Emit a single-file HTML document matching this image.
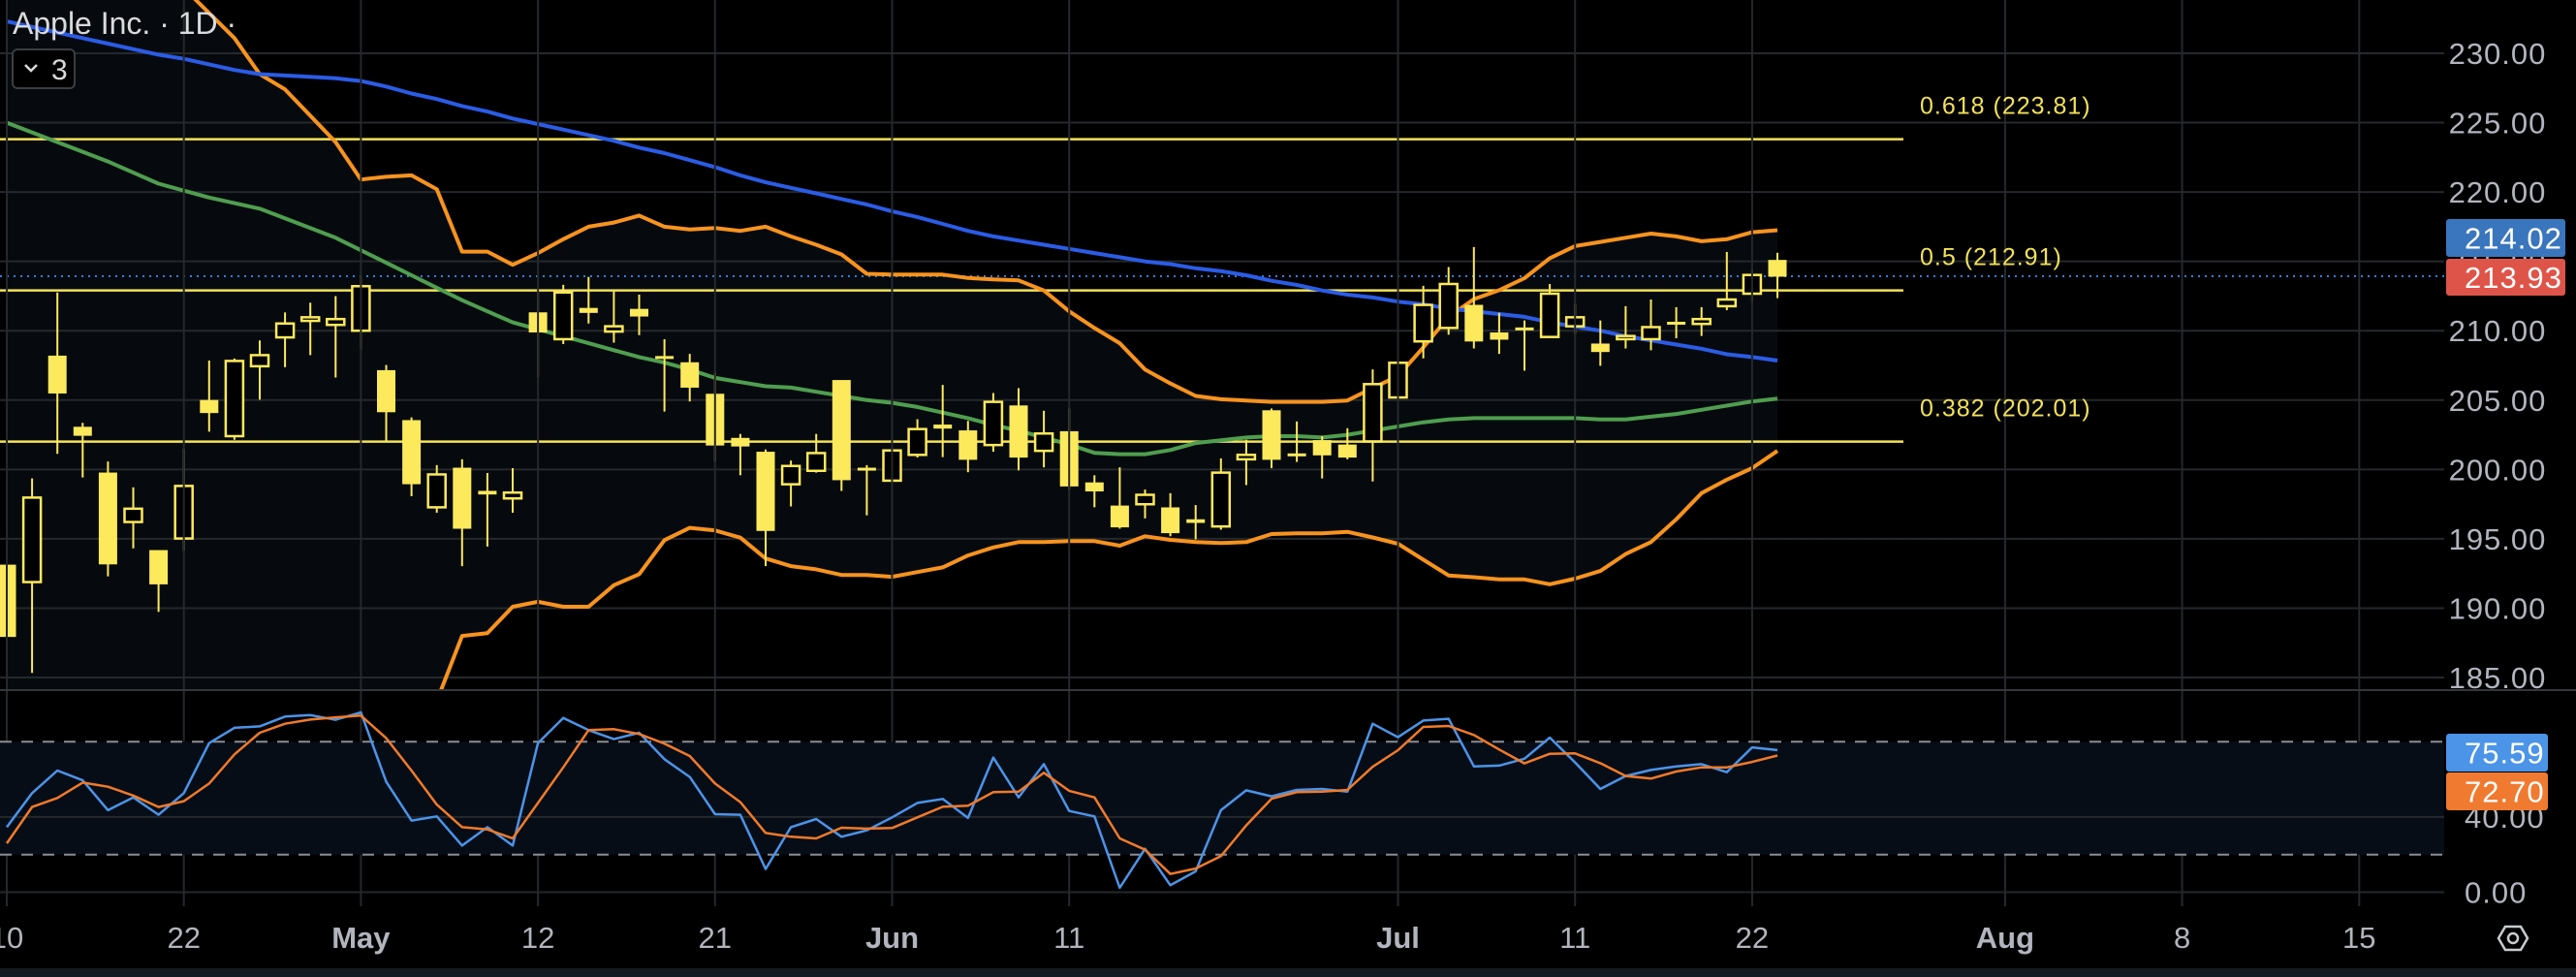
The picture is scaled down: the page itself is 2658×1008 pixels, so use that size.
<!DOCTYPE html>
<html><head><meta charset="utf-8"><style>
html,body{margin:0;padding:0;background:#000;overflow:hidden}
svg{display:block;font-family:"Liberation Sans",sans-serif}
</style></head><body>
<svg id="c" width="2658" height="1008" viewBox="0 0 2658 1008"></svg>
<script>
const opens=[193.1,191.88,208.17,203.04,199.74,196.21,194.15,195.02,204.97,202.4,207.44,209.52,210.71,210.42,210.0,207.12,203.52,197.27,200.09,198.42,197.91,211.29,209.39,211.61,209.94,211.54,208.14,207.69,205.42,202.24,201.24,198.93,199.9,206.41,200.09,199.19,201.05,203.2,202.78,201.76,204.58,201.34,202.72,199.03,197.36,197.49,197.23,196.37,195.89,200.73,204.23,201.12,202.08,201.76,202.02,205.19,209.23,210.2,211.83,209.84,210.2,209.55,210.32,209.04,209.39,209.39,210.61,210.49,211.77,212.67,215.07];
const closes=[187.96,197.97,205.51,202.46,193.19,197.17,191.75,198.81,204.1,207.82,208.24,210.52,210.97,210.84,213.21,204.16,198.97,199.64,195.76,198.23,198.33,209.91,212.76,211.32,210.32,211.06,208.02,205.93,201.76,201.69,195.6,200.25,201.18,199.26,200.03,201.37,202.91,202.98,200.73,204.87,200.89,202.59,198.81,198.45,195.86,198.17,195.44,196.18,199.77,201.05,200.73,201.05,201.05,200.89,206.15,207.69,211.86,213.37,209.26,209.39,210.2,212.67,210.97,208.5,209.62,210.26,210.61,210.84,212.25,214.02,213.93];
const highs=[194.5,199.35,212.76,203.36,200.57,198.71,194.15,201.5,207.85,208.0,209.3,211.32,212.02,212.5,213.88,207.53,203.75,200.31,200.73,199.74,200.09,213.05,213.31,213.88,212.83,212.6,209.39,208.33,206.95,202.56,201.44,200.64,202.56,206.41,200.31,201.82,203.62,206.09,203.5,205.51,205.86,204.23,204.39,199.58,200.15,198.55,198.29,197.43,200.79,202.14,204.39,203.46,202.4,202.97,207.21,210.1,213.24,214.59,216.03,211.29,210.74,213.37,211.96,210.74,211.77,212.25,211.7,211.7,215.68,214.37,215.62];
const lows=[184.7,185.33,201.12,199.42,192.29,194.31,189.73,194.15,202.72,202.14,205.03,207.37,208.24,206.63,208.66,201.98,198.07,196.88,193.03,194.44,196.88,206.63,209.04,210.52,209.14,209.68,204.17,204.9,200.57,199.58,193.03,197.33,199.77,198.45,196.69,199.19,200.86,200.89,199.8,201.28,199.93,200.15,198.55,197.27,195.73,196.47,195.18,194.95,195.66,198.87,200.09,200.54,199.35,200.73,199.13,205.19,208.01,209.71,208.72,208.33,207.12,209.55,209.78,207.47,208.72,208.59,209.46,209.62,211.48,212.12,212.35];
const maSlow=[232.3,231.9,231.5,231.1,230.7,230.3,229.9,229.6,229.2,228.8,228.5,228.4,228.3,228.2,228.0,227.6,227.1,226.7,226.2,225.8,225.3,224.9,224.5,224.1,223.7,223.2,222.8,222.3,221.8,221.2,220.7,220.3,219.9,219.5,219.1,218.6,218.2,217.7,217.2,216.8,216.5,216.2,215.9,215.6,215.3,215.0,214.8,214.5,214.3,214.0,213.6,213.3,212.9,212.6,212.4,212.1,211.9,211.6,211.4,211.2,211.0,210.6,210.3,210.0,209.6,209.3,209.0,208.7,208.3,208.1,207.85];
const maFast=[225.0,224.3,223.6,222.9,222.2,221.4,220.6,220.1,219.6,219.2,218.8,218.1,217.4,216.7,215.8,214.9,214.0,213.1,212.2,211.4,210.6,210.1,209.6,209.1,208.6,208.1,207.7,207.2,206.6,206.3,206.0,205.9,205.6,205.3,205.0,204.8,204.5,204.1,203.7,203.2,202.8,202.3,201.8,201.2,201.1,201.1,201.4,201.9,202.1,202.3,202.4,202.4,202.3,202.5,202.8,203.1,203.4,203.6,203.7,203.7,203.7,203.7,203.7,203.6,203.6,203.8,204.0,204.3,204.6,204.9,205.1];
const bandUpper=[246,244.5,243,241.5,240,238.5,237,234.7,232.9,231.1,228.5,227.4,225.5,223.6,220.9,221.1,221.2,220.2,215.7,215.7,214.75,215.6,216.6,217.5,217.8,218.3,217.5,217.3,217.4,217.2,217.5,216.8,216.2,215.5,214.1,214.05,214.05,214.05,213.8,213.7,213.63,212.9,211.4,210.2,209.1,207.2,206.2,205.3,205.06,204.97,204.87,204.87,204.87,204.97,205.87,206.73,208.8,211.0,212.28,212.92,213.79,215.23,216.1,216.4,216.7,217.0,216.8,216.45,216.6,217.1,217.25];
const bandLower=[170,170.5,171,171.5,172,172.5,173,173.5,174,175,176,177,178,179,180,181,182,183.3,188.0,188.2,190.1,190.46,190.1,190.1,191.65,192.45,194.9,195.79,195.6,195.08,193.58,193.03,192.8,192.39,192.39,192.26,192.6,192.94,193.8,194.38,194.76,194.76,194.83,194.83,194.5,195.18,194.92,194.76,194.7,194.76,195.34,195.4,195.4,195.5,195.1,194.64,193.5,192.36,192.23,192.07,192.07,191.72,192.13,192.68,193.9,194.76,196.4,198.29,199.26,200.09,201.34];
const rsiK=[34.6,52.7,64.7,59.5,43.6,50.4,41.2,52.7,79.3,87.4,88.2,93.4,94.2,91.7,95.6,58.7,38.1,40.3,24.8,34.6,24.8,79.3,92.7,86.2,81.4,84.8,70.7,61.3,41.5,41.2,12.3,34.6,38.9,29.5,32.9,39.8,47.5,49.6,39.5,71.6,50.4,68.1,43.2,40.3,2.3,23.1,3.7,11.1,43.6,54.2,51.0,54.4,54.9,53.5,89.6,82.4,91.3,92.2,66.9,67.3,71.0,82.2,69.0,54.9,61.8,65.0,66.9,68.1,63.8,77.0,75.59];
const rsiD=[26.0,45.3,50.1,58.3,56.1,51.4,45.3,48.4,57.8,73.3,84.8,89.6,91.8,93.0,93.9,81.9,64.7,46.6,34.6,33.4,28.6,47.5,66.4,86.2,86.7,84.1,79.0,72.4,57.8,47.9,31.5,29.5,28.6,34.3,33.8,34.1,39.8,45.4,46.0,53.2,53.5,63.5,53.9,50.4,28.6,22.6,9.7,12.6,19.2,35.5,49.7,53.2,53.5,54.4,66.7,75.5,87.9,88.4,83.6,75.9,68.5,73.6,73.8,68.6,61.8,60.4,64.2,66.4,66.4,69.3,72.7];
const priceTicks=[230,225,220,215,210,205,200,195,190,185];
const fibLevels=[223.81,212.91,202.01];
const fibLabels=["0.618 (223.81)","0.5 (212.91)","0.382 (202.01)"];
const timeTickIdx=[0,7,14,21,28,35,42,55,62,69,79,86,93];
const timeTickLabels=["10","22","May","12","21","Jun","11","Jul","11","22","Aug","8","15"];
const timeTickBold=[0,0,1,0,0,1,0,1,0,0,1,0,0];
const rsiTicks=[40,0];
const lastPrice=213.93, lastMa=214.02;
</script>
<script>
const NS='http://www.w3.org/2000/svg';
const svg=document.getElementById('c');
const PR=2522, MAIN_B=712;
const xAt=i=>7+i*26.1;
const yP=p=>55+(230-p)*14.311;
const yR=v=>920.5-v*1.94;
function mk(tag,attrs,parent){const e=document.createElementNS(NS,tag);for(const k in attrs)e.setAttribute(k,attrs[k]);(parent||svg).appendChild(e);return e;}
const defs=mk('defs',{});
const cp=mk('clipPath',{id:'mainclip'},defs);mk('rect',{x:0,y:0,width:PR,height:MAIN_B},cp);
const cr=mk('clipPath',{id:'rsiclip'},defs);mk('rect',{x:0,y:MAIN_B,width:PR,height:935-MAIN_B},cr);
const gMain=mk('g',{'clip-path':'url(#mainclip)'});


let d='';bandUpper.forEach((v,i)=>{d+=(i?'L':'M')+xAt(i)+','+yP(v)});
for(let i=bandLower.length-1;i>=0;i--)d+='L'+xAt(i)+','+yP(bandLower[i]);
const bf=mk('path',{d:d+'Z',fill:'#060a0e'},gMain);


priceTicks.forEach(p=>{const l=mk('line',{x1:0,x2:PR,y1:yP(p),y2:yP(p),stroke:'#25282c','stroke-width':2},gMain);

});
timeTickIdx.forEach(i=>{const l=mk('line',{x1:xAt(i),x2:xAt(i),y1:0,y2:935,stroke:'#25282c','stroke-width':2});

});
fibLevels.forEach((f,k)=>{const l=mk('line',{x1:0,x2:1964,y1:yP(f),y2:yP(f),stroke:'#f2e158','stroke-width':2.5},gMain);


const t=mk('text',{x:1981,y:yP(f)-26,fill:'#f2e158','font-size':25,'letter-spacing':1});t.textContent=fibLabels[k];

});
const dl=mk('line',{x1:0,x2:PR,y1:yP(lastPrice),y2:yP(lastPrice),stroke:'#2f7fe0','stroke-width':2,'stroke-dasharray':'2 5'},gMain);


function line(arr,yf,color,w,g,name){let s='';arr.forEach((v,i)=>{s+=(i?'L':'M')+xAt(i)+','+yf(v).toFixed(1)});const p=mk('path',{d:s,fill:'none',stroke:color,'stroke-width':w,'stroke-linejoin':'round'},g);return p;}
line(bandUpper,yP,'#f7931e',4,gMain,'band-upper-line');
line(bandLower,yP,'#f7931e',4,gMain,'band-lower-line');
line(maSlow,yP,'#2b5ce6',4,gMain,'slow-moving-average-line');
line(maFast,yP,'#4f9e4f',4,gMain,'fast-moving-average-line');
const Y='#fde95c';
opens.forEach((o,i)=>{const c=closes[i],x=xAt(i);
const w=mk('line',{x1:x,x2:x,y1:yP(highs[i]),y2:yP(lows[i]),stroke:Y,'stroke-width':2},gMain);


const top=yP(Math.max(o,c)),bot=yP(Math.min(o,c));const h=Math.max(bot-top,2);
const up=c>o;
const r=mk('rect',{x:x-9,y:top,width:18,height:h,fill:up?'#000':Y,stroke:Y,'stroke-width':up?2.5:1},gMain);

});
const sep=mk('line',{x1:0,x2:2658,y1:MAIN_B,y2:MAIN_B,stroke:'#33373c','stroke-width':2});


const gR=mk('g',{'clip-path':'url(#rsiclip)'});


const rb=mk('rect',{x:0,y:yR(80),width:PR,height:yR(20)-yR(80),fill:'#070d17'},gR);


rsiTicks.forEach(v=>{const l=mk('line',{x1:0,x2:PR,y1:yR(v),y2:yR(v),stroke:'#25282c','stroke-width':2},gR);

});
[80,20].forEach(v=>{const l=mk('line',{x1:0,x2:PR,y1:yR(v),y2:yR(v),stroke:'#8a8d92','stroke-width':2,'stroke-dasharray':'12 10'},gR);

});
line(rsiK,yR,'#4b94e8',2.5,gR,'rsi-k-line');
line(rsiD,yR,'#f07a2a',2.5,gR,'rsi-d-line');
priceTicks.forEach(p=>{const t=mk('text',{x:2577,y:yP(p)+11,fill:'#b2b5be','font-size':31,'text-anchor':'middle','letter-spacing':1});t.textContent=p.toFixed(2);

});
rsiTicks.forEach(v=>{const t=mk('text',{x:2543,y:yR(v)+11,fill:'#b2b5be','font-size':31,'letter-spacing':1});t.textContent=v.toFixed(2);

});
function tag(y,h,w,bg,txt,name){const g=mk('g',{});
mk('rect',{x:2524,y:y,width:w,height:h,rx:3,fill:bg},g);
const t=mk('text',{x:2543,y:y+h/2+11,fill:'#fff','font-size':31,'letter-spacing':1},g);t.textContent=txt;}
tag(226,39,123,'#3a76bd',lastMa.toFixed(2),'ma-value-tag');
tag(267,38,123,'#df5449',lastPrice.toFixed(2),'last-price-tag');
tag(757,39,105,'#4b94e8',rsiK[rsiK.length-1].toFixed(2),'rsi-k-tag');
tag(797,39,105,'#f07a30',rsiD[rsiD.length-1].toFixed(2),'rsi-d-tag');
timeTickIdx.forEach((i,k)=>{const t=mk('text',{x:xAt(i),y:978,fill:'#b2b5be','font-size':31,'text-anchor':'middle','font-weight':timeTickBold[k]?'bold':'normal'});t.textContent=timeTickLabels[k];

});
const bs=mk('rect',{x:0,y:999,width:2658,height:9,fill:'#141b20'});


const gi=mk('g',{});
mk('polygon',{points:'2578,968 2585,956 2601,956 2608,968 2601,980 2585,980',fill:'none',stroke:'#c8cbd0','stroke-width':2.5},gi);
mk('circle',{cx:2593,cy:968,r:5,fill:'none',stroke:'#c8cbd0','stroke-width':2.5},gi);
const tt=mk('text',{x:13,y:35,fill:'#d9dadc','font-size':32});tt.textContent='Apple Inc. · 1D ·';


const gb=mk('g',{});
mk('rect',{x:13,y:51,width:64,height:40,rx:5,fill:'#000',stroke:'#3a3d42','stroke-width':2},gb);
mk('path',{d:'M26,67 L32,73 L38,67',fill:'none',stroke:'#d9dadc','stroke-width':2.5},gb);
const bt=mk('text',{x:53,y:82,fill:'#d9dadc','font-size':30},gb);bt.textContent='3';
</script>
</body></html>
